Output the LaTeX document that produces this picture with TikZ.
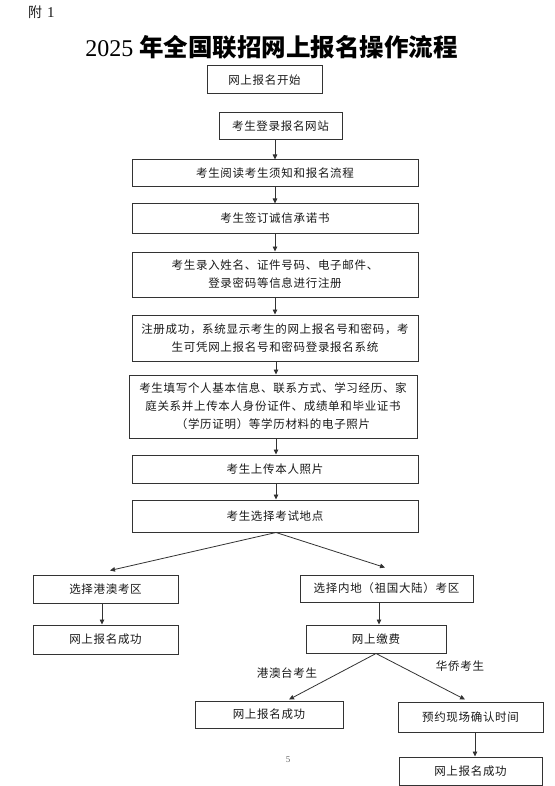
\documentclass[tikz,border=0pt]{standalone}
\usepackage{fontspec}
\setmainfont{Liberation Serif}
\newfontfamily\cjk[LetterSpace=6]{Noto Sans CJK SC}
\newfontfamily\cjkt{Noto Sans CJK SC}
\usetikzlibrary{arrows.meta}
\definecolor{ln}{HTML}{333333}
\definecolor{tx}{HTML}{1A1A1A}
\tikzset{
  box/.style={draw=ln, line width=1pt, fill=white, inner sep=0pt, align=center,
    text=tx, font=\cjk\fontsize{11.5}{18}\selectfont},
  arr/.style={draw=ln, line width=0.8pt, -{Triangle[width=4.5pt,length=5pt]}},
  lbl/.style={text=tx, inner sep=0pt, font=\cjk\fontsize{11.5}{14}\selectfont}
}
\begin{document}
\begin{tikzpicture}[x=1pt,y=-1pt]
\fill[white] (0,0) rectangle (554,786);
\useasboundingbox (0,0) rectangle (554,786);
% header
\node[anchor=west, inner sep=0pt, text=tx] (fu) at (28,12) {{\cjkt\fontsize{14}{15}\selectfont 附}\hspace{5pt}{\fontsize{15}{15}\selectfont 1}};
\node[inner sep=0pt, text=black] (title) at (271.5,47) {{\fontsize{24}{26}\selectfont 2025 }{\cjkt\bfseries\fontsize{24.5}{26}\selectfont 年全国联招网上报名操作流程}};
% main column
\node[box, minimum width=115, minimum height=28] (b1) at (264.5,80) {网上报名开始};
\node[box, minimum width=123, minimum height=27] (b2) at (280.5,126.5) {考生登录报名网站};
\node[box, minimum width=286, minimum height=27] (b3) at (275,173.5) {考生阅读考生须知和报名流程};
\node[box, minimum width=286, minimum height=29] (b4) at (275,218.5) {考生签订诚信承诺书};
\node[box, minimum width=286, minimum height=45] (b5) at (275,274.5) {考生录入姓名、证件号码、电子邮件、\\登录密码等信息进行注册};
\node[box, minimum width=286, minimum height=46] (b6) at (275,338) {注册成功，系统显示考生的网上报名号和密码，考\\生可凭网上报名号和密码登录报名系统};
\node[box, minimum width=288, minimum height=63] (b7) at (273,406.5) {考生填写个人基本信息、联系方式、学习经历、家\\庭关系并上传本人身份证件、成绩单和毕业证书\\（学历证明）等学历材料的电子照片};
\node[box, minimum width=286, minimum height=28] (b8) at (275,469) {考生上传本人照片};
\node[box, minimum width=286, minimum height=32] (b9) at (275,516) {考生选择考试地点};
% left branch
\node[box, minimum width=145, minimum height=28] (l1) at (105.5,589) {选择港澳考区};
\node[box, minimum width=145, minimum height=29] (l2) at (105.5,639.5) {网上报名成功};
% right branch
\node[box, minimum width=173, minimum height=27] (r1) at (386.5,588.5) {选择内地（祖国大陆）考区};
\node[box, minimum width=140, minimum height=28] (r2) at (376,639) {网上缴费};
\node[box, minimum width=148, minimum height=27] (m1) at (269,714.5) {网上报名成功};
\node[box, minimum width=145, minimum height=30] (r3) at (470.5,717) {预约现场确认时间};
\node[box, minimum width=143, minimum height=28] (r4) at (470.5,771) {网上报名成功};
% labels
\node[lbl] (t1) at (287,673) {港澳台考生};
\node[lbl] (t2) at (460,666) {华侨考生};
\node[inner sep=0pt, text=black!60] (pg) at (288,760) {\fontsize{9}{10}\selectfont 5};
% connectors
\draw[arr] (b3.north |- b2.south) -- (b3.north);
\draw[arr] (b3.south) -- (b4.north);
\draw[arr] (b4.south) -- (b5.north);
\draw[arr] (b5.south) -- (b6.north);
\draw[arr] ([xshift=1pt]b6.south) -- ([xshift=3pt]b7.north);
\draw[arr] ([xshift=3pt]b7.south) -- ([xshift=1pt]b8.north);
\draw[arr] ([xshift=1pt]b8.south) -- ([xshift=1pt]b9.north);
\draw[arr] ([xshift=1pt]b9.south) -- ([shift={(4.5,-4)}]l1.north);
\draw[arr] ([xshift=1pt]b9.south) -- ([shift={(-1.5,-7)}]r1.north);
\draw[arr] ([xshift=-3.5pt]l1.south) -- ([xshift=-3.5pt]l2.north);
\draw[arr] ([xshift=-7.5pt]r1.south) -- ([xshift=3pt]r2.north);
\draw[arr] (r2.south) -- ([shift={(20,-1)}]m1.north);
\draw[arr] (r2.south) -- ([shift={(-5.5,-2)}]r3.north);
\draw[arr] ([xshift=4.5pt]r3.south) -- ([xshift=4.5pt]r4.north);
\end{tikzpicture}
\end{document}
